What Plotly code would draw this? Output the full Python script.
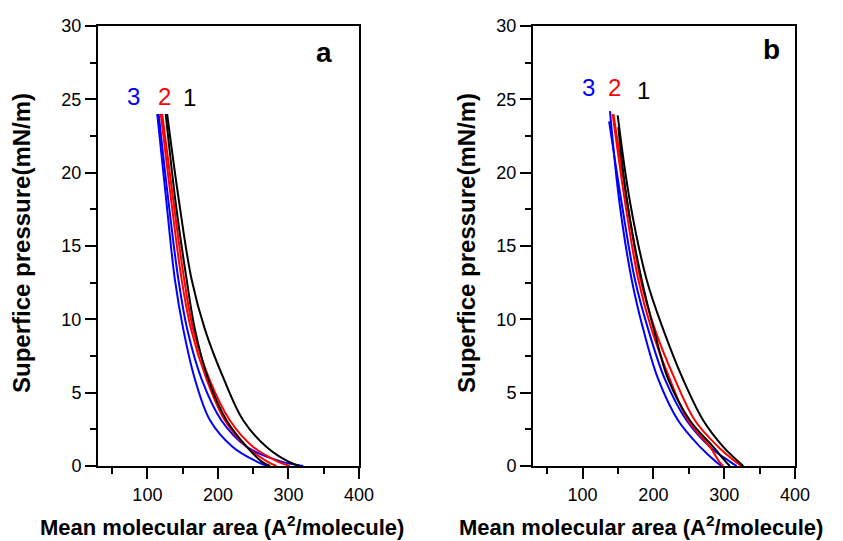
import plotly.graph_objects as go

# ---- data (mean molecular area, A^2/molecule, vs surface pressure, mN/m) ----
P_LEVELS = [24.0, 18.0, 12.7, 9.3, 5.9, 3.1, 1.3, 0.3, 0.0]

# panel a
A_BLUE_1 = [114, 127, 139, 151, 167.5, 189, 221, 255, 270]
A_BLUE_2 = [116, 130, 144, 156.6, 177, 205, 241, 290, 321]
A_RED_1 = [119, 134, 148.6, 162, 184, 210, 241, 270, 283]
A_RED_2 = [121, 137, 152.3, 165, 188, 217, 250, 285, 302]
A_BLACK_1 = [126, 140, 155.7, 167.5, 186.4, 212.4, 241, 262, 274]
A_BLACK_2 = [128, 145, 162.8, 181.7, 208.6, 236, 269, 300, 316]

# panel b
B_BLUE_1 = [138.7, 152, 169.4, 185.8, 207, 235, 266, 288, 296]
B_BLUE_2 = [137.5, 155, 174, 192.8, 216.4, 247, 280, 308, 317.6]
B_RED_1 = [142.5, 160, 178.7, 197.6, 223.4, 249, 280, 293, 298.7]
B_RED_2 = [143.5, 163, 182, 202.3, 230.5, 258.7, 291.7, 316, 324.7]
B_BLACK_1 = [150.5, 163, 183.5, 200.8, 221, 251.7, 284.6, 302, 308]
B_BLACK_2 = [149.6, 167, 190.5, 214, 242, 270.5, 298.7, 320, 327]
B_TOP_P = [24.2, 23.5, 24.0, 24.0, 23.1, 23.9]

CURVE_COLORS = ["#0000FF", "#0000FF", "#FF0000", "#FF0000", "#000000", "#000000"]
CURVE_LABELS = ["3", "2", "1"]
LABEL_COLORS = ["#0000FF", "#FF0000", "#000000"]
LABELS_A_X = [80, 124, 160.4]
LABELS_A_Y = [25.2, 25.2, 25.1]
LABELS_B_X = [108, 144.8, 185.8]
LABELS_B_Y = [25.8, 25.8, 25.6]
PANEL_TAGS = ["a", "b"]

X_TITLE = "Mean molecular area (A<sup>2</sup>/molecule)"
Y_TITLE = "Superfice pressure(mN/m)"

FONT = "Arial, Liberation Sans, sans-serif"

# page has an 8px body margin: figure is drawn 8px in from the window corner
OFF = 8
W, H = 843 - OFF, 541 - OFF

def fx(px):
    return (px - OFF) / W

def fy(py):
    return 1 - (py - OFF) / H

fig = go.Figure()

a_curves = [A_BLUE_1, A_BLUE_2, A_RED_1, A_RED_2, A_BLACK_1, A_BLACK_2]
for xs, c in zip(a_curves, CURVE_COLORS):
    fig.add_trace(go.Scatter(x=xs, y=P_LEVELS, mode="lines", xaxis="x", yaxis="y",
                             line=dict(color=c, width=2, shape="spline", smoothing=1.0),
                             showlegend=False, hoverinfo="skip"))

b_curves = [B_BLUE_1, B_BLUE_2, B_RED_1, B_RED_2, B_BLACK_1, B_BLACK_2]
for xs, top, c in zip(b_curves, B_TOP_P, CURVE_COLORS):
    ys = [top] + P_LEVELS[1:]
    fig.add_trace(go.Scatter(x=xs, y=ys, mode="lines", xaxis="x2", yaxis="y2",
                             line=dict(color=c, width=2, shape="spline", smoothing=1.0),
                             showlegend=False, hoverinfo="skip"))

dom_ax = [fx(98), fx(359)]
dom_bx = [fx(533), fx(795)]
dom_y = [fy(466), fy(26)]

tickfont = dict(family=FONT, size=18, color="black")

def xax(domain, anchor):
    return dict(domain=domain, anchor=anchor, range=[30, 400], tick0=0, dtick=100,
                ticks="outside", ticklen=11, tickwidth=1.5, tickcolor="black",
                showline=True, linecolor="black", linewidth=2, mirror=True,
                showgrid=False, zeroline=False, tickfont=tickfont, automargin=False,
                minor=dict(dtick=50, tick0=0, ticks="outside", ticklen=6,
                           tickwidth=1.5, tickcolor="black", showgrid=False))

def yax(domain, anchor):
    return dict(domain=domain, anchor=anchor, range=[0, 30], tick0=0, dtick=5,
                ticks="outside", ticklen=11, tickwidth=1.5, tickcolor="black",
                showline=True, linecolor="black", linewidth=2, mirror=True,
                showgrid=False, zeroline=False, tickfont=tickfont, automargin=False,
                minor=dict(dtick=2.5, tick0=0, ticks="outside", ticklen=6,
                           tickwidth=1.5, tickcolor="black", showgrid=False))

def mirror_x(over, anchor):
    return dict(overlaying=over, anchor=anchor, side="top", range=[30, 400], tick0=0,
                dtick=100, ticks="outside", ticklen=4, tickwidth=1.5, tickcolor="black",
                showticklabels=False, showgrid=False, zeroline=False, showline=False,
                automargin=False,
                minor=dict(dtick=50, tick0=0, ticks="outside", ticklen=3,
                           tickwidth=1.5, tickcolor="black", showgrid=False))

def mirror_y(over, anchor):
    return dict(overlaying=over, anchor=anchor, side="right", range=[0, 30], tick0=0,
                dtick=5, ticks="outside", ticklen=4, tickwidth=1.5, tickcolor="black",
                showticklabels=False, showgrid=False, zeroline=False, showline=False,
                automargin=False,
                minor=dict(dtick=2.5, tick0=0, ticks="outside", ticklen=3,
                           tickwidth=1.5, tickcolor="black", showgrid=False))

annotations = []
for xref, yref, xs, ys in [("x", "y", LABELS_A_X, LABELS_A_Y), ("x2", "y2", LABELS_B_X, LABELS_B_Y)]:
    for t, c, x, y in zip(CURVE_LABELS, LABEL_COLORS, xs, ys):
        annotations.append(dict(x=x, y=y, xref=xref, yref=yref, text=t, showarrow=False,
                                xanchor="center", yanchor="middle",
                                font=dict(family=FONT, size=24, color=c)))

annotations.append(dict(x=351, y=28.2, xref="x", yref="y", text="<b>%s</b>" % PANEL_TAGS[0],
                        showarrow=False, xanchor="center", yanchor="middle",
                        font=dict(family=FONT, size=28, color="black")))
annotations.append(dict(x=366.5, y=28.4, xref="x2", yref="y2", text="<b>%s</b>" % PANEL_TAGS[1],
                        showarrow=False, xanchor="center", yanchor="middle",
                        font=dict(family=FONT, size=28, color="black")))

for xc in [222, 641]:
    annotations.append(dict(x=fx(xc), y=fy(526), xref="paper", yref="paper",
                            text="<b>%s</b>" % X_TITLE, showarrow=False,
                            xanchor="center", yanchor="middle",
                            font=dict(family=FONT, size=22, color="black")))
for xc in [21, 466]:
    annotations.append(dict(x=fx(xc), y=fy(243), xref="paper", yref="paper",
                            text="<b>%s</b>" % Y_TITLE, showarrow=False, textangle=-90,
                            xanchor="center", yanchor="middle",
                            font=dict(family=FONT, size=24, color="black")))

fig.update_layout(
    width=W, height=H,
    margin=dict(l=0, r=0, t=0, b=0, autoexpand=False),
    paper_bgcolor="white", plot_bgcolor="white",
    xaxis=xax(dom_ax, "y"), yaxis=yax(dom_y, "x"),
    xaxis2=xax(dom_bx, "y2"), yaxis2=yax(dom_y, "x2"),
    xaxis3=mirror_x("x", "y"), yaxis3=mirror_y("y", "x"),
    xaxis4=mirror_x("x2", "y2"), yaxis4=mirror_y("y2", "x2"),
    annotations=annotations,
    showlegend=False,
)

fig.write_html("out.html")
